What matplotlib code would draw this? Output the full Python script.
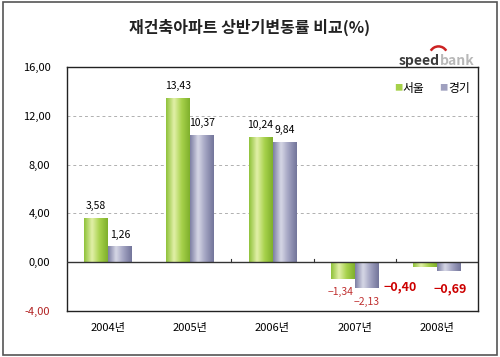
import numpy as np
import matplotlib
matplotlib.use("Agg")
import matplotlib.pyplot as plt
from matplotlib.patches import Rectangle, Arc
from matplotlib.colors import LinearSegmentedColormap

plt.rcParams["font.family"] = ["Noto Sans CJK KR", "DejaVu Sans"]

years = ["2004년", "2005년", "2006년", "2007년", "2008년"]
seoul = [3.58, 13.43, 10.24, -1.34, -0.40]
gyeonggi = [1.26, 10.37, 9.84, -2.13, -0.69]
series_names = ["서울", "경기"]
yticks = [-4, 0, 4, 8, 12, 16]

GREEN = LinearSegmentedColormap.from_list("g", ["#8fc23a", "#e2f0a8", "#a6d14a", "#7fb02c"])
PURPLE = LinearSegmentedColormap.from_list("p", ["#7d7fa3", "#d6d7e6", "#9fa0bf", "#73759a"])


def fmt(v):
    return f"{v:.2f}".replace(".", ",").replace("-", "\u2212")


def gradient_bars(ax, bars, cmap):
    grad = np.linspace(0, 1, 64).reshape(1, -1)
    for b in bars:
        x, y = b.get_x(), b.get_y()
        w, h = b.get_width(), b.get_height()
        b.set_facecolor("none")
        b.set_edgecolor("none")
        ax.imshow(grad, cmap=cmap, aspect="auto", zorder=2,
                  extent=(x, x + w, y, y + h), interpolation="bicubic")


fig = plt.figure(figsize=(5, 3.57), dpi=100)
fig.patches.append(Rectangle((0.006, 0.006), 0.988, 0.988, transform=fig.transFigure,
                             fill=False, edgecolor="#555555", linewidth=1.2))
ax = fig.add_axes([0.134, 0.129, 0.822, 0.683])

x = np.arange(len(years))
w = 0.29
b1 = ax.bar(x - w / 2, seoul, w, zorder=2)
b2 = ax.bar(x + w / 2, gyeonggi, w, zorder=2)
gradient_bars(ax, b1, GREEN)
gradient_bars(ax, b2, PURPLE)

ax.set_xlim(-0.5, len(years) - 0.5)
ax.set_ylim(-4, 16)
for yv in [4, 8, 12]:
    ax.axhline(yv, color="#b0b0b0", linestyle=(0, (3, 3)), linewidth=0.7, zorder=1)
ax.axhline(0, color="#333333", linewidth=1.0, zorder=3)
for xv in x[1:-1] + 0.5:
    ax.plot([xv, xv], [0, 0.3], color="#333333", linewidth=0.8, zorder=3)

ax.set_yticks(yticks)
ax.set_yticklabels([fmt(v).replace("\u2212", "-") for v in yticks], fontsize=8)
ax.get_yticklabels()[0].set_color("#b22222")
ax.set_xticks(x)
ax.set_xticklabels(years, fontsize=8)
ax.tick_params(axis="x", length=0, pad=9)
ax.tick_params(axis="y", length=0, pad=12)
for s in ax.spines.values():
    s.set_color("#222222")
    s.set_linewidth(1.0)

# value labels
for i in range(3):
    ax.text(x[i] - w / 2, seoul[i] + 0.6, fmt(seoul[i]), ha="center", va="bottom", fontsize=7.5)
    ax.text(x[i] + w / 2, gyeonggi[i] + 0.6, fmt(gyeonggi[i]), ha="center", va="bottom", fontsize=7.5)
ax.text(x[3] - w / 2 - 0.03, seoul[3] - 1.1, fmt(seoul[3]), ha="center", va="center",
        fontsize=7.5, color="#c03030")
ax.text(x[3] + w / 2, gyeonggi[3] - 1.15, fmt(gyeonggi[3]), ha="center", va="center",
        fontsize=7.5, color="#c03030")
ax.text(x[4] - 0.45, seoul[4] - 1.65, fmt(seoul[4]), ha="center", va="center",
        fontsize=9, color="#cc0000", fontweight="bold")
ax.text(x[4] + 0.16, gyeonggi[4] - 1.5, fmt(gyeonggi[4]), ha="center", va="center",
        fontsize=9, color="#cc0000", fontweight="bold")

# legend
ly = 0.914
ax.text(0.795, ly, "■", transform=ax.transAxes, color="#a6d14a", fontsize=6, va="center")
ax.text(0.817, ly, series_names[0], transform=ax.transAxes, fontsize=8.5, va="center")
ax.text(0.905, ly, "■", transform=ax.transAxes, color="#9fa0bf", fontsize=6, va="center")
ax.text(0.927, ly, series_names[1], transform=ax.transAxes, fontsize=8.5, va="center")

fig.text(0.5, 0.922, "재건축아파트 상반기변동률 비교(%)", ha="center", va="center",
         fontsize=11.5, fontweight="bold", color="#222222")
fig.text(0.88, 0.83, "speed", ha="right", va="center", fontsize=10,
         fontweight="bold", color="#3a3a3a")
fig.text(0.88, 0.83, "bank", ha="left", va="center", fontsize=10,
         fontweight="bold", color="#b8b8b8")
# small red swoosh above the logo
fig.patches.append(Arc((0.877, 0.845), 0.036, 0.05, theta1=40, theta2=140,
                       transform=fig.transFigure, color="#cc2222", linewidth=1.8))

fig.savefig("out.png", dpi=100)
